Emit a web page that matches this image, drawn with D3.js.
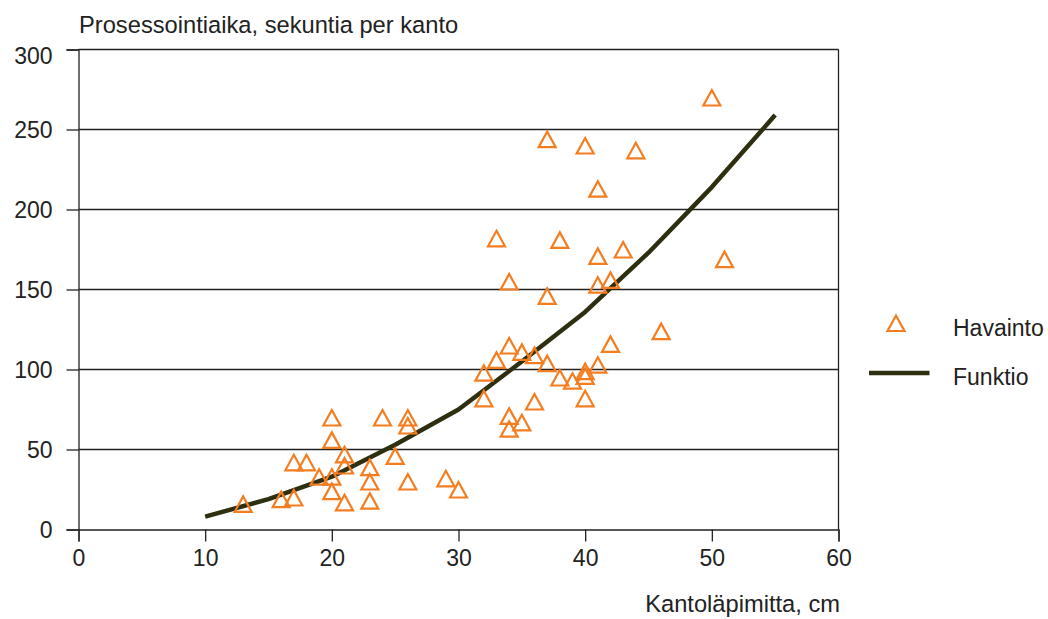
<!DOCTYPE html>
<html>
<head>
<meta charset="utf-8">
<script src="https://cdn.jsdelivr.net/npm/d3@7"></script>
<style>
  html, body { margin: 0; padding: 0; background: #fff; }
  svg { display: block; }
  text { font-family: "Liberation Sans", Arial, sans-serif; fill: #222; }
</style>
</head>
<body>
<svg id="chart" width="1048" height="619"></svg>
<script>
// Observed stump diameters (cm) and processing times (s per stump)
const diameters = [13, 16, 17, 17, 18, 19, 20, 20, 20, 20, 21, 21, 21, 23, 23, 23, 24, 25, 26, 26, 26, 29, 30,
  32, 32, 33, 33, 34, 34, 34, 34, 35, 35, 36, 36, 37, 37, 37, 38, 38, 39, 40, 40, 40, 40,
  41, 41, 41, 41, 42, 42, 43, 44, 46, 50, 51];
const times = [16, 19, 20, 42, 42, 33, 70, 56, 33, 24, 47, 40, 17, 39, 30, 18, 70, 46, 70, 65, 30, 32, 25,
  98, 82, 182, 106, 155, 115, 71, 63, 111, 67, 109, 80, 244, 146, 104, 181, 95, 93, 240, 99, 96, 82,
  213, 171, 153, 103, 156, 116, 175, 237, 124, 270, 169];

// Fitted model, evaluated every 5 cm
const fitDiameters = [10, 15, 20, 25, 30, 35, 40, 45, 50, 55];
const fitTimes = [8, 19, 33, 53, 75, 105, 136, 173, 214, 259];

const xTicks = [0, 10, 20, 30, 40, 50, 60];
const yTicks = [0, 50, 100, 150, 200, 250, 300];

const yTitle = "Prosessointiaika, sekuntia per kanto";
const xTitle = "Kantoläpimitta, cm";
const legendLabels = ["Havainto", "Funktio"];

const orange = "#F47D20";
const olive = "#2E2E10";
const ink = "#222";
const tickFont = 23;
const titleFont = 23.7;

const svg = d3.select("#chart");

const x = d3.scaleLinear().domain([0, 60]).range([78.5, 838.5]);
const y = d3.scaleLinear().domain([0, 300]).range([529.5, 49.5]);

// Horizontal gridlines
svg.append("g")
  .selectAll("line")
  .data(yTicks.filter(d => d > 0))
  .join("line")
  .attr("x1", x(0)).attr("x2", x(60))
  .attr("y1", d => y(d)).attr("y2", d => y(d))
  .attr("stroke", ink).attr("stroke-width", 1.3);

// Right border of the plot area
svg.append("line")
  .attr("x1", x(60)).attr("x2", x(60))
  .attr("y1", y(300)).attr("y2", y(0))
  .attr("stroke", ink).attr("stroke-width", 1.3);

// Y axis
const yAxis = svg.append("g")
  .attr("transform", `translate(${x(0)},0)`)
  .call(d3.axisLeft(y).tickValues(yTicks).tickSize(12).tickPadding(14).tickFormat(d3.format("d")));
yAxis.select(".domain").attr("stroke", ink).attr("stroke-width", 1.3);
yAxis.selectAll(".tick line").attr("stroke", ink).attr("stroke-width", 1.3);
yAxis.selectAll(".tick text")
  .attr("font-size", tickFont)
  .attr("font-family", "Liberation Sans, Arial, sans-serif")
  .attr("fill", ink)
  .attr("dy", d => d === 300 ? "0.6em" : "0.36em");

// X axis
const xAxis = svg.append("g")
  .attr("transform", `translate(0,${y(0)})`)
  .call(d3.axisBottom(x).tickValues(xTicks).tickSize(12).tickPadding(4).tickFormat(d3.format("d")));
xAxis.select(".domain").attr("stroke", ink).attr("stroke-width", 1.3);
xAxis.selectAll(".tick line").attr("stroke", ink).attr("stroke-width", 1.3);
xAxis.selectAll(".tick text")
  .attr("font-size", tickFont)
  .attr("font-family", "Liberation Sans, Arial, sans-serif")
  .attr("fill", ink)
  .attr("dy", "0.9em");

// Axis titles
svg.append("text")
  .attr("x", 79).attr("y", 33)
  .attr("font-size", titleFont)
  .text(yTitle);

svg.append("text")
  .attr("x", 840).attr("y", 612)
  .attr("text-anchor", "end")
  .attr("font-size", titleFont)
  .text(xTitle);

// Hollow triangle marker
const triangle = "M0,-7.5L8.5,8L-8.5,8Z";

// Fitted curve
const line = d3.line()
  .x((d, i) => x(fitDiameters[i]))
  .y(d => y(d));

svg.append("path")
  .datum(fitTimes)
  .attr("d", line)
  .attr("fill", "none")
  .attr("stroke", olive)
  .attr("stroke-width", 4.5)
  .attr("stroke-linejoin", "round");

// Observations
svg.append("g")
  .selectAll("path")
  .data(diameters.map((d, i) => [d, times[i]]))
  .join("path")
  .attr("d", triangle)
  .attr("transform", d => `translate(${x(d[0])},${y(d[1])})`)
  .attr("fill", "none")
  .attr("stroke", orange)
  .attr("stroke-width", 2.2);

// Legend
const legend = svg.append("g");
legend.append("path")
  .attr("d", triangle)
  .attr("transform", "translate(896,323)")
  .attr("fill", "none")
  .attr("stroke", orange)
  .attr("stroke-width", 2.2);
legend.append("text")
  .attr("x", 953).attr("y", 335.5)
  .attr("font-size", tickFont)
  .text(legendLabels[0]);
legend.append("line")
  .attr("x1", 869).attr("x2", 929.5)
  .attr("y1", 373).attr("y2", 373)
  .attr("stroke", olive)
  .attr("stroke-width", 4.5);
legend.append("text")
  .attr("x", 953).attr("y", 385)
  .attr("font-size", tickFont)
  .text(legendLabels[1]);
</script>
</body>
</html>
